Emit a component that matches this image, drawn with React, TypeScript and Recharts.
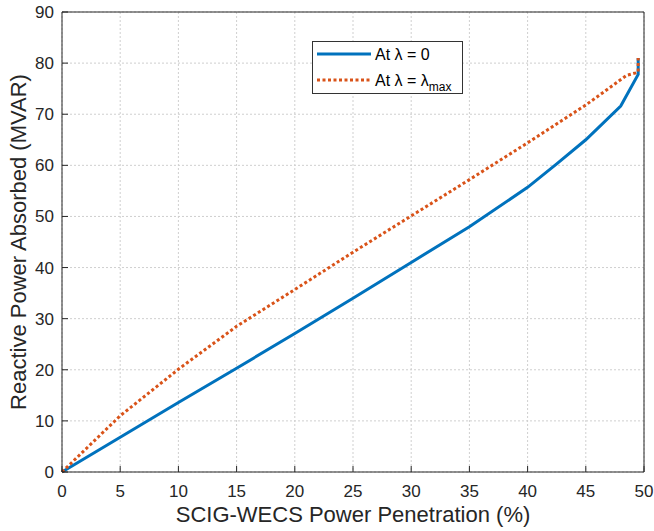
import { LineChart, Line, XAxis, YAxis, CartesianGrid } from "recharts";

const xTicks = [0, 5, 10, 15, 20, 25, 30, 35, 40, 45, 50];
const yTicks = [0, 10, 20, 30, 40, 50, 60, 70, 80, 90];

// At λ = 0
const zeroX = [0, 5, 10, 15, 20, 25, 30, 35, 40, 42.5, 45, 48, 49.5, 49.5];
const zeroY = [0, 6.8, 13.6, 20.3, 27.1, 34, 41, 48, 55.7, 60.3, 65, 71.6, 77.8, 81];

// At λ = λmax
const maxX = [0, 5, 10, 15, 20, 25, 30, 35, 40, 45, 48.5, 49.3, 49.5, 49.5];
const maxY = [0, 11, 20.1, 28.5, 35.7, 43, 50.1, 57.2, 64.4, 71.8, 77.6, 78.1, 78.3, 81];

const zeroData = zeroX.map((x, i) => ({ x, y: zeroY[i] }));
const maxData = maxX.map((x, i) => ({ x, y: maxY[i] }));

const BLUE = "#0072BD";
const RED = "#D95319";
const AXIS = "#262626";
const FONT = "'Liberation Sans', Arial, sans-serif";

function BottomTick(props: any) {
  const { x, y, payload } = props;
  return (
    <g>
      <line x1={x} x2={x} y1={y} y2={y - 6} stroke={AXIS} />
      <text x={x} y={y + 25} textAnchor="middle" fontSize={17} fill={AXIS} fontFamily={FONT}>
        {payload.value}
      </text>
    </g>
  );
}

function TopTick(props: any) {
  const { x, y } = props;
  return <line x1={x} x2={x} y1={y} y2={y + 6} stroke={AXIS} />;
}

function LeftTick(props: any) {
  const { x, y, payload } = props;
  return (
    <g>
      <line x1={x} x2={x + 6} y1={y} y2={y} stroke={AXIS} />
      <text x={x - 8} y={y + 6} textAnchor="end" fontSize={17} fill={AXIS} fontFamily={FONT}>
        {payload.value}
      </text>
    </g>
  );
}

function RightTick(props: any) {
  const { x, y } = props;
  return <line x1={x} x2={x - 6} y1={y} y2={y} stroke={AXIS} />;
}

function YLabel(props: any) {
  const vb = props.viewBox || {};
  const cy = vb.y + vb.height / 2;
  return (
    <text
      x={26}
      y={cy}
      transform={`rotate(-90, 26, ${cy})`}
      textAnchor="middle"
      fontSize={22}
      fill={AXIS}
      fontFamily={FONT}
    >
      Reactive Power Absorbed (MVAR)
    </text>
  );
}

function LegendBox() {
  return (
    <svg
      width={152}
      height={54}
      style={{ position: "absolute", left: 312, top: 41, display: "block" }}
    >
      <rect x={0.5} y={0.5} width={150} height={52} fill="#fff" stroke="#333" />
      <line x1={5} x2={59} y1={13} y2={13} stroke={BLUE} strokeWidth={3} />
      <text x={63} y={19} fontSize={16} fill="#000" fontFamily={FONT}>
        At λ = 0
      </text>
      <line x1={5} x2={59} y1={39} y2={39} stroke={RED} strokeWidth={3} strokeDasharray="3 2.5" />
      <text x={63} y={45} fontSize={16} fill="#000" fontFamily={FONT}>
        At λ = λ
        <tspan fontSize={12} dy={5}>max</tspan>
      </text>
    </svg>
  );
}

export default function App() {
  return (
    <div style={{ position: "absolute", left: 0, top: 0, width: 654, height: 531, background: "#fff" }}>
      <LineChart width={654} height={531} margin={{ top: 11, right: 9, left: 0, bottom: 0 }}>
        <CartesianGrid stroke="#cfcfcf" strokeDasharray="2 2" horizontalValues={yTicks} verticalValues={xTicks} />
        <XAxis
          dataKey="x"
          type="number"
          domain={[0, 50]}
          ticks={xTicks}
          allowDuplicatedCategory={false}
          height={59}
          tickSize={0}
          tickMargin={0}
          tickLine={false}
          tick={<BottomTick />}
          stroke={AXIS}
          label={{ value: "SCIG-WECS Power Penetration (%)", position: "insideBottom", offset: 9, fontSize: 22, fill: AXIS, fontFamily: FONT }}
        />
        <XAxis
          xAxisId="top"
          orientation="top"
          dataKey="x"
          type="number"
          domain={[0, 50]}
          ticks={xTicks}
          height={1}
          tickSize={0}
          tickMargin={0}
          tickLine={false}
          tick={<TopTick />}
          stroke={AXIS}
        />
        <YAxis
          dataKey="y"
          type="number"
          domain={[0, 90]}
          ticks={yTicks}
          width={62}
          tickSize={0}
          tickMargin={0}
          tickLine={false}
          tick={<LeftTick />}
          stroke={AXIS}
          label={<YLabel />}
        />
        <YAxis
          yAxisId="right"
          orientation="right"
          type="number"
          domain={[0, 90]}
          ticks={yTicks}
          width={1}
          tickSize={0}
          tickMargin={0}
          tickLine={false}
          tick={<RightTick />}
          stroke={AXIS}
        />
        <Line
          data={zeroData}
          dataKey="y"
          type="linear"
          stroke={BLUE}
          strokeWidth={3}
          dot={false}
          isAnimationActive={false}
        />
        <Line
          data={maxData}
          dataKey="y"
          type="linear"
          stroke={RED}
          strokeWidth={3}
          strokeDasharray="3 2.5"
          dot={false}
          isAnimationActive={false}
        />
      </LineChart>
      <LegendBox />
    </div>
  );
}
